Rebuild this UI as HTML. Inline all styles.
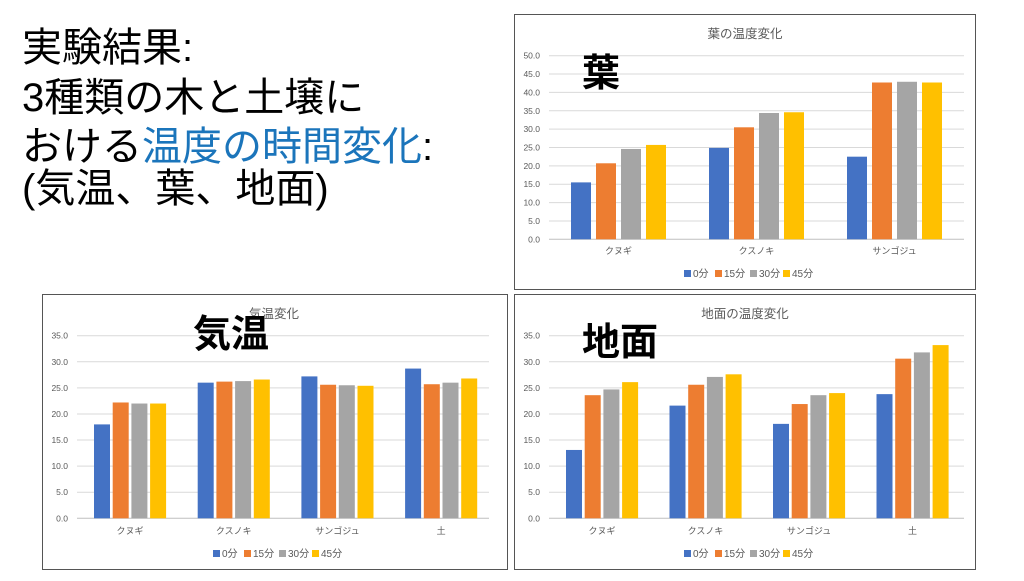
<!DOCTYPE html>
<html><head><meta charset="utf-8"><style>
body{margin:0;width:1024px;height:576px;background:#fff;overflow:hidden;font-family:"Liberation Sans","Noto Sans CJK JP",sans-serif}
svg text{font-family:"Liberation Sans","Noto Sans CJK JP",sans-serif}
</style></head><body>
<svg width="1024" height="576" xmlns="http://www.w3.org/2000/svg">
<g font-size="40" fill="#000">
<text x="22" y="61">実験結果:</text>
<text x="22" y="111">3種類の木と土壌に</text>
<text x="22" y="160">おける<tspan fill="#1b75bb">温度の時間変化</tspan>:</text>
<text x="22" y="202">(気温、葉、地面)</text>
</g>
<rect x="514.5" y="14.5" width="461" height="275" fill="#fff" stroke="#555"/>
<rect x="42.5" y="294.5" width="465" height="275" fill="#fff" stroke="#555"/>
<rect x="514.5" y="294.5" width="461" height="275" fill="#fff" stroke="#555"/>
<g id="c"></g>
</svg>
<script>
const C=["#4472c4","#ed7d31","#a5a5a5","#ffc000"];
let s="";
function chart(o){
 const {x0,x1,y0,max,step,ppu,lx,bx,gstep,bstep,bw,vals,cats,title,tx,ty,big,bxx,byy,cy,ly,lc}=o;
 for(let v=0;v<=max+0.01;v+=step){const y=y0-v*ppu;
  s+=`<line x1="${x0}" x2="${x1}" y1="${y}" y2="${y}" stroke="${v==0?'#bfbfbf':'#d9d9d9'}" stroke-width="1"/>`;
  s+=`<text x="${lx}" y="${y+3}" font-size="8.5" fill="#595959" text-anchor="end">${v.toFixed(1)}</text>`;}
 vals.forEach((g,i)=>{g.forEach((v,j)=>{const x=bx+i*gstep+j*bstep;const h=v*ppu;
  s+=`<rect x="${x}" y="${y0-h}" width="${bw}" height="${h}" fill="${C[j]}"/>`;});
  s+=`<text x="${bx+i*gstep+(3*bstep+bw)/2}" y="${cy}" font-size="9" fill="#595959" text-anchor="middle">${cats[i]}</text>`;});
 s+=`<text x="${tx}" y="${ty}" font-size="12.5" fill="#595959" text-anchor="middle">${title}</text>`;
 s+=`<text x="${bxx}" y="${byy}" font-size="38" font-weight="bold" fill="#000">${big}</text>`;
 const L=["0分","15分","30分","45分"];const off=[-61,-30,5,38];
 L.forEach((t,j)=>{const lx2=lc+off[j];s+=`<rect x="${lx2}" y="${ly-7}" width="7" height="7" fill="${C[j]}"/><text x="${lx2+9}" y="${ly}" font-size="10" fill="#595959">${t}</text>`;});
}
chart({x0:549,x1:964,y0:239.3,max:50,step:5,ppu:3.672,lx:540,bx:571,gstep:138,bstep:25,bw:20,
 vals:[[15.5,20.7,24.6,25.7],[24.9,30.5,34.4,34.6],[22.5,42.7,42.9,42.7]],cats:["クヌギ","クスノキ","サンゴジュ"],
 title:"葉の温度変化",tx:745,ty:38,big:"葉",bxx:582,byy:86,cy:254,ly:277,lc:745});
chart({x0:77,x1:489,y0:518.3,max:35,step:5,ppu:5.217,lx:68,bx:94,gstep:103.7,bstep:18.7,bw:16,
 vals:[[18.0,22.2,22.0,22.0],[26.0,26.2,26.3,26.6],[27.2,25.6,25.5,25.4],[28.7,25.7,26.0,26.8]],cats:["クヌギ","クスノキ","サンゴジュ","土"],
 title:"気温変化",tx:274,ty:318,big:"気温",bxx:193,byy:347,cy:534,ly:557,lc:274});
chart({x0:549,x1:964,y0:518.3,max:35,step:5,ppu:5.217,lx:540,bx:566,gstep:103.5,bstep:18.7,bw:16,
 vals:[[13.1,23.6,24.7,26.1],[21.6,25.6,27.1,27.6],[18.1,21.9,23.6,24.0],[23.8,30.6,31.8,33.2]],cats:["クヌギ","クスノキ","サンゴジュ","土"],
 title:"地面の温度変化",tx:745,ty:318,big:"地面",bxx:582,byy:355,cy:534,ly:557,lc:745});
document.getElementById("c").innerHTML=s;
</script>
</body></html>
